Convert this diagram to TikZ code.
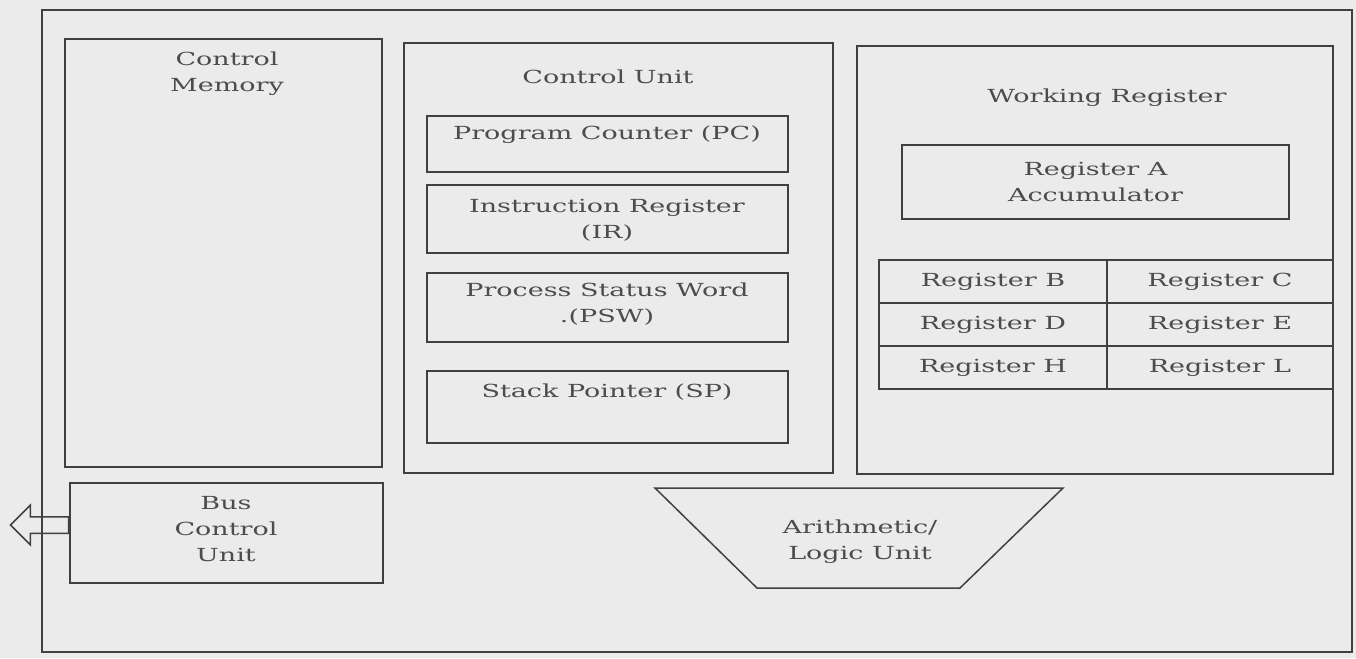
\documentclass[tikz,border=0pt]{standalone}
\usepackage{fontspec}
\setmainfont{DejaVu Serif}[FakeStretch=1.5]
\usetikzlibrary{positioning,shapes.geometric,shapes.arrows}

\begin{document}
\begin{tikzpicture}[x=1pt,y=-1pt,
  box/.style={draw=black!75,line width=1.5pt,inner sep=0pt},
  lbl/.style={text=black!70,font=\fontsize{18}{26}\selectfont,align=center,inner sep=0pt}]
\useasboundingbox (0,0) rectangle (1356,658);
\fill[black!8] (0,0) rectangle (1356,658);

% Outer frame
\node[box,minimum width=1310pt,minimum height=642pt] (cpu) at (697,331) {};

% Control memory
\node[box,minimum width=317pt,minimum height=428pt] (cm) at (223.5,253) {};
\node[lbl] (cmtext) at (227,74) {Control\\Memory};

% Control unit and its registers
\node[box,minimum width=429pt,minimum height=430pt] (cu) at (618.5,258) {};
\node[lbl] (cutext) at (608,77) {Control Unit};
\node[box,minimum width=361pt,minimum height=56pt] (pc) at (607.5,144) {};
\node[lbl] (pctext) at (607,135) {Program Counter (PC)};
\node[box,minimum width=361pt,minimum height=68pt] (ir) at (607.5,219) {};
\node[lbl] (irtext) at (607,220) {Instruction Register\\(IR)};
\node[box,minimum width=361pt,minimum height=69pt] (psw) at (607.5,307.5) {};
\node[lbl] (pswtext) at (607,304) {Process Status Word\\.(PSW)};
\node[box,minimum width=361pt,minimum height=72pt] (sp) at (607.5,407) {};
\node[lbl] (sptext) at (607,392) {Stack Pointer (SP)};

% Working register
\node[box,minimum width=476pt,minimum height=428pt] (wr) at (1095,260) {};
\node[lbl] (wrtext) at (1107,98) {Working Register};
\node[box,lbl,minimum width=387pt,minimum height=74pt] (regA) at (1095.5,182) {Register A\\Accumulator};
\foreach \l/\r [count=\i] in {B/C,D/E,H/L} {
  \node[box,lbl,minimum width=228pt,minimum height=43pt] (reg\l) at (993,238.5+43*\i) {Register \l};
  \node[box,lbl,minimum width=226pt,minimum height=43pt] (reg\r) at (1220,238.5+43*\i) {Register \r};
}

% Bus control unit
\node[box,minimum width=313pt,minimum height=100pt] (bcu) at (226.5,533) {};
\node[lbl] (bcutext) at (226,529) {Bus\\Control\\Unit};
\node[draw=black!75,line width=1.5pt,single arrow,shape border rotate=180,
  minimum height=58pt,single arrow head extend=11.5pt,
  inner xsep=0pt,inner ysep=7.5pt,anchor=tail] (busout) at ([yshift=8pt]bcu.west) {};

% ALU
\draw[box] (655,488) -- (1063,488) -- (960,588) -- (757,588) -- cycle;
\node[lbl] (alutext) at (860,542) {Arithmetic/\\Logic Unit};
\end{tikzpicture}
\end{document}
